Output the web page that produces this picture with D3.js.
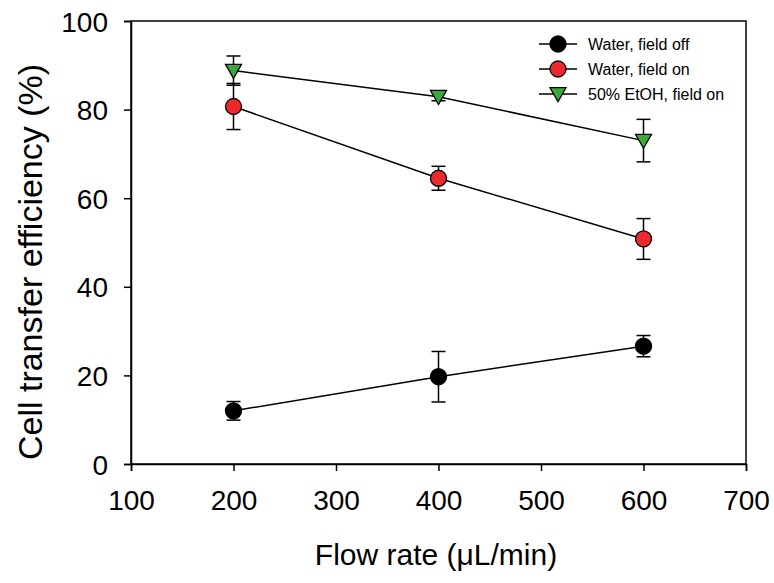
<!DOCTYPE html>
<html><head><meta charset="utf-8">
<script src="https://cdn.jsdelivr.net/npm/d3@7"></script>
<style>body{margin:0;background:#fff}svg{display:block}text{font-family:Arial,"Liberation Sans",sans-serif;fill:#000}</style>
</head><body>
<script>
const flowRates = [200, 400, 600];
const waterOff = [12.0, 19.7, 26.6];
const waterOffErr = [2.1, 5.7, 2.4];
const waterOn = [80.7, 64.5, 50.8];
const waterOnErr = [5.2, 2.7, 4.6];
const etohOn = [88.8, 82.9, 73.0];
const etohOnErr = [3.3, 0.9, 4.8];
const xTicks = [100, 200, 300, 400, 500, 600, 700];
const yTicks = [0, 20, 40, 60, 80, 100];
const seriesNames = ["Water, field off", "Water, field on", "50% EtOH, field on"];

const W = 774, H = 583;
const svg = d3.select("body").append("svg").attr("width", W).attr("height", H);
const x = d3.scaleLinear().domain([100, 700]).range([131, 746]);
const y = d3.scaleLinear().domain([0, 100]).range([464, 21]);

const series = [
  {name: seriesNames[0], vals: waterOff, err: waterOffErr, shape: "circle", fill: "#000000"},
  {name: seriesNames[1], vals: waterOn, err: waterOnErr, shape: "circle", fill: "#ec2a2e"},
  {name: seriesNames[2], vals: etohOn, err: etohOnErr, shape: "tri", fill: "#3aa83a"}
];

svg.append("rect").attr("x", 131).attr("y", 21).attr("width", 746-131).attr("height", 464-21)
  .attr("fill", "none").attr("stroke", "#000").attr("stroke-width", 1.5);

const xAxis = svg.append("g").attr("transform", "translate(0,464)")
  .call(d3.axisBottom(x).tickValues(xTicks).tickSize(7).tickPadding(19).tickFormat(d3.format("d")));
const yAxis = svg.append("g").attr("transform", "translate(131,0)")
  .call(d3.axisLeft(y).tickValues(yTicks).tickSize(7).tickPadding(16).tickFormat(d3.format("d")));
[xAxis, yAxis].forEach(g => {
  g.select(".domain").attr("stroke-width", 1.5);
  g.selectAll(".tick line").attr("stroke-width", 1.5);
  g.selectAll("text").attr("font-size", 28).attr("font-family", "Arial, 'Liberation Sans', sans-serif");
});
yAxis.selectAll("text").attr("dy", "0.36em");

svg.append("text").attr("x", 436).attr("y", 565).attr("text-anchor", "middle")
  .attr("font-size", 30).text("Flow rate (\u03bcL/min)");
svg.append("text").attr("transform", "translate(42,262) rotate(-90)").attr("text-anchor", "middle")
  .attr("font-size", 34).text("Cell transfer efficiency (%)");

function drawMarker(g, s, cx, cy, r) {
  if (s.shape === "circle") {
    g.append("circle").attr("cx", cx).attr("cy", cy).attr("r", r)
      .attr("fill", s.fill).attr("stroke", "#000").attr("stroke-width", 1.3);
  } else {
    const w = r, h = r * 1.75;
    g.append("path").attr("d", `M${cx-w},${cy-h*0.45}L${cx+w},${cy-h*0.45}L${cx},${cy+h*0.55}Z`)
      .attr("fill", s.fill).attr("stroke", "#000").attr("stroke-width", 1.3);
  }
}

const line = d3.line().x((d, i) => x(flowRates[i])).y(d => y(d));
series.forEach(s => {
  const g = svg.append("g");
  g.append("path").attr("d", line(s.vals)).attr("fill", "none").attr("stroke", "#000").attr("stroke-width", 1.5);
  s.vals.forEach((v, i) => {
    const cx = x(flowRates[i]);
    const top = y(v + s.err[i]), bot = y(v - s.err[i]);
    g.append("line").attr("x1", cx).attr("x2", cx).attr("y1", top).attr("y2", bot).attr("stroke", "#000").attr("stroke-width", 1.5);
    [top, bot].forEach(yy => g.append("line").attr("x1", cx-7).attr("x2", cx+7).attr("y1", yy).attr("y2", yy).attr("stroke", "#000").attr("stroke-width", 1.5));
  });
  s.vals.forEach((v, i) => drawMarker(g, s, x(flowRates[i]), y(v), 8));
});

series.forEach((s, i) => {
  const ly = 44 + i * 25;
  const g = svg.append("g");
  g.append("line").attr("x1", 539).attr("x2", 577).attr("y1", ly).attr("y2", ly).attr("stroke", "#000").attr("stroke-width", 1.5);
  drawMarker(g, s, 558, ly, 8);
  g.append("text").attr("x", 588).attr("y", ly).attr("dy", "0.35em").attr("font-size", 16).text(s.name);
});
</script>
</body></html>
